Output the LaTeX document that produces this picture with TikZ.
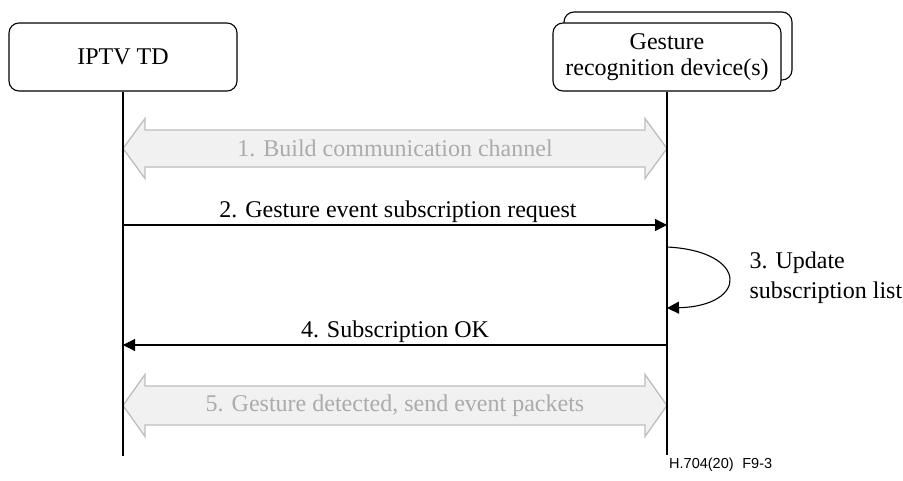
\documentclass[tikz,border=0pt]{standalone}
\usepackage{fontspec}
\setmainfont{Liberation Serif}
\newfontfamily\figsans{Liberation Sans}
\usetikzlibrary{arrows.meta}
\definecolor{bandfill}{HTML}{F1F1F1}
\definecolor{bandedge}{HTML}{BDBDBD}
\definecolor{bandtext}{HTML}{ABABAB}
\newcommand{\bigfont}{\fontsize{24}{30}\selectfont}
\newcommand{\boxfont}{\fontsize{24}{26}\selectfont}
\begin{document}
\begin{tikzpicture}[x=1pt,y=-1pt,
  entity/.style={draw, line width=1.1pt, rounded corners=10pt, fill=white,
    minimum width=228pt, minimum height=68pt, align=center, font=\boxfont, inner sep=0pt},
  lifeline/.style={line width=1.1pt},
  msg/.style={line width=1.1pt, -{Triangle[length=12pt,width=12pt]}},
  msglabel/.style={font=\bigfont, anchor=base},
  band/.style={draw=bandedge, fill=bandfill, line width=1.3pt},
  bandlabel/.style={text=bandtext, font=\bigfont}]

\useasboundingbox (0,0) rectangle (903,480);

% participants
\node[entity] (iptv) at (123,57) {IPTV TD};
\node[entity] (gestback) at (678,46) {};
\node[entity] (gest) at (667,57) {Gesture\\recognition device(s)};

% lifeline ends
\coordinate (iptvEnd) at (123,456);
\coordinate (gestEnd) at (667,455);

% wide grey two-way arrows between the lifelines
\newcommand{\bandarrow}[4]{% name, centre y, body half width, head half width
  \draw[band] (123,#2) -- (145,#2-#4) -- (145,#2-#3) -- (645,#2-#3) -- (645,#2-#4)
    -- (667,#2) -- (645,#2+#4) -- (645,#2+#3) -- (145,#2+#3) -- (145,#2+#4) -- cycle;
  \node[bandlabel] (#1) at (395,#2) {};}
\bandarrow{band1}{148.5}{18.5}{30}
\bandarrow{band5}{405.5}{19.5}{31}
\node[bandlabel] at (band1) {1. Build communication channel};
\node[bandlabel] at (band5) {5. Gesture detected, send event packets};

% lifelines
\draw[lifeline] (iptv.south) -- (iptvEnd);
\draw[lifeline] (gest.south) -- (gestEnd);

% message 2
\coordinate (m2a) at (123,225);
\coordinate (m2b) at (667,225);
\draw[msg] (m2a) -- (m2b);
\node[msglabel] (lab2) at (398,217) {2. Gesture event subscription request};

% step 3: self loop on the device
\coordinate (s3a) at (667,247);
\coordinate (s3b) at (667,308);
\draw[msg] (s3a) .. controls (749,251) and (749,306) .. (s3b);
\node[font=\bigfont, anchor=base west, align=left] (lab3a) at (746,268) {3. Update};
\node[font=\bigfont, anchor=base west, align=left] (lab3b) at (746,298) {subscription list};

% message 4
\coordinate (m4a) at (667,345);
\coordinate (m4b) at (123,345);
\draw[msg] (m4a) -- (m4b);
\node[msglabel] (lab4) at (395,337) {4. Subscription OK};

% figure reference
\node[font=\figsans\fontsize{14.5}{16}\selectfont, anchor=base west, inner sep=0pt] (figref) at (669,468) {H.704(20)\hspace{0.6em}F9-3};
\end{tikzpicture}
\end{document}
